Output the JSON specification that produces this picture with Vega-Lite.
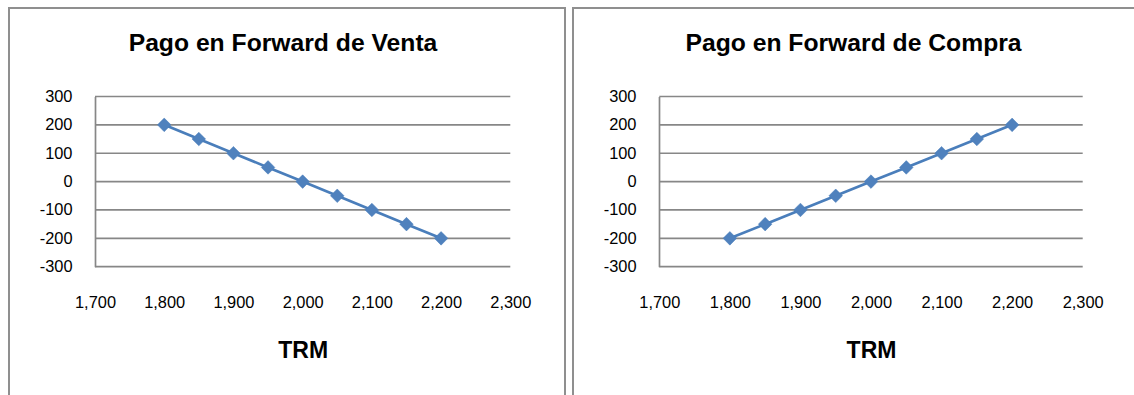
{
  "$schema": "https://vega.github.io/schema/vega-lite/v6.json",
  "padding": {"left": 8, "top": 7, "right": 0, "bottom": 0},
  "background": "white",
  "spacing": 8,
  "bounds": "flush",
  "datasets": {
    "venta": [
      {"trm": 1800, "pago": 200},
      {"trm": 1850, "pago": 150},
      {"trm": 1900, "pago": 100},
      {"trm": 1950, "pago": 50},
      {"trm": 2000, "pago": 0},
      {"trm": 2050, "pago": -50},
      {"trm": 2100, "pago": -100},
      {"trm": 2150, "pago": -150},
      {"trm": 2200, "pago": -200}
    ],
    "compra": [
      {"trm": 1800, "pago": -200},
      {"trm": 1850, "pago": -150},
      {"trm": 1900, "pago": -100},
      {"trm": 1950, "pago": -50},
      {"trm": 2000, "pago": 0},
      {"trm": 2050, "pago": 50},
      {"trm": 2100, "pago": 100},
      {"trm": 2150, "pago": 150},
      {"trm": 2200, "pago": 200}
    ],
    "grid": [
      {"desde": 1700, "hasta": 2300, "nivel": -300},
      {"desde": 1700, "hasta": 2300, "nivel": -200},
      {"desde": 1700, "hasta": 2300, "nivel": -100},
      {"desde": 1700, "hasta": 2300, "nivel": 0},
      {"desde": 1700, "hasta": 2300, "nivel": 100},
      {"desde": 1700, "hasta": 2300, "nivel": 200},
      {"desde": 1700, "hasta": 2300, "nivel": 300}
    ]
  },
  "hconcat": [
    {
      "width": 556,
      "height": 400,
      "title": {"text": "Pago en Forward de Venta", "dx": -4},
      "layer": [
        {
          "data": {"name": "grid"},
          "mark": {"type": "rule", "stroke": "#878787", "strokeWidth": 1.7},
          "encoding": {
            "x": {"field": "desde", "type": "quantitative"},
            "x2": {"field": "hasta"},
            "y": {"field": "nivel", "type": "quantitative"}
          }
        },
        {
          "data": {"name": "venta"},
          "mark": {"type": "line", "stroke": "#4A7EBB", "strokeWidth": 2.7},
          "encoding": {
            "x": {"field": "trm", "type": "quantitative"},
            "y": {"field": "pago", "type": "quantitative"}
          }
        },
        {
          "data": {"name": "venta"},
          "mark": {"type": "point", "shape": "diamond", "filled": true, "size": 185, "fill": "#4F81BD", "stroke": "#4A7EBB", "strokeWidth": 0.5, "opacity": 1},
          "encoding": {
            "x": {"field": "trm", "type": "quantitative"},
            "y": {"field": "pago", "type": "quantitative"}
          }
        }
      ],
      "encoding": {
        "x": {
          "field": "trm", "type": "quantitative", "title": "TRM",
          "scale": {"domain": [1700, 2300], "range": [86, 501.3], "nice": false, "zero": false},
          "axis": {"offset": -141.3, "values": [1700, 1800, 1900, 2000, 2100, 2200, 2300], "format": ",d"}
        },
        "y": {
          "field": "pago", "type": "quantitative", "title": null,
          "scale": {"domain": [-300, 300], "range": [258.7, 88.5], "nice": false, "zero": false},
          "axis": {"offset": -86, "values": [-300, -200, -100, 0, 100, 200, 300], "labelExpr": "datum.value < 0 ? '-' + format(-datum.value, 'd') : format(datum.value, 'd')"}
        }
      }
    },
    {
      "width": 565,
      "height": 400,
      "title": {"text": "Pago en Forward de Compra", "dx": -2},
      "layer": [
        {
          "data": {"name": "grid"},
          "mark": {"type": "rule", "stroke": "#878787", "strokeWidth": 1.7},
          "encoding": {
            "x": {"field": "desde", "type": "quantitative"},
            "x2": {"field": "hasta"},
            "y": {"field": "nivel", "type": "quantitative"}
          }
        },
        {
          "data": {"name": "compra"},
          "mark": {"type": "line", "stroke": "#4A7EBB", "strokeWidth": 2.7},
          "encoding": {
            "x": {"field": "trm", "type": "quantitative"},
            "y": {"field": "pago", "type": "quantitative"}
          }
        },
        {
          "data": {"name": "compra"},
          "mark": {"type": "point", "shape": "diamond", "filled": true, "size": 185, "fill": "#4F81BD", "stroke": "#4A7EBB", "strokeWidth": 0.5, "opacity": 1},
          "encoding": {
            "x": {"field": "trm", "type": "quantitative"},
            "y": {"field": "pago", "type": "quantitative"}
          }
        }
      ],
      "encoding": {
        "x": {
          "field": "trm", "type": "quantitative", "title": "TRM",
          "scale": {"domain": [1700, 2300], "range": [86.3, 509.7], "nice": false, "zero": false},
          "axis": {"offset": -141.3, "values": [1700, 1800, 1900, 2000, 2100, 2200, 2300], "format": ",d"}
        },
        "y": {
          "field": "pago", "type": "quantitative", "title": null,
          "scale": {"domain": [-300, 300], "range": [258.7, 88.5], "nice": false, "zero": false},
          "axis": {"offset": -86, "values": [-300, -200, -100, 0, 100, 200, 300], "labelExpr": "datum.value < 0 ? '-' + format(-datum.value, 'd') : format(datum.value, 'd')"}
        }
      }
    }
  ],
  "resolve": {"scale": {"x": "independent", "y": "independent"}},
  "config": {
    "view": {"stroke": "#8F8F8F", "strokeWidth": 2},
    "title": {
      "font": "Liberation Sans",
      "fontSize": 24.7,
      "fontWeight": "bold",
      "color": "#000000",
      "anchor": "middle",
      "baseline": "alphabetic",
      "offset": -47.3
    },
    "axis": {
      "labelFont": "Liberation Sans",
      "labelFontSize": 16.4,
      "labelColor": "#000000",
      "ticks": false,
      "tickSize": 0,
      "grid": false,
      "titleFont": "Liberation Sans",
      "titleFontSize": 23,
      "titleFontWeight": "bold",
      "titleColor": "#000000"
    },
    "axisY": {
      "domain": true,
      "domainColor": "#878787",
      "domainWidth": 1.7,
      "labelPadding": 23,
      "labelAlign": "right",
      "labelBaseline": "middle"
    },
    "axisX": {
      "domain": false,
      "labelPadding": 41,
      "labelBaseline": "alphabetic",
      "labelAlign": "center",
      "titleBaseline": "alphabetic",
      "titleY": 90.3,
      "labelOverlap": false
    }
  }
}
